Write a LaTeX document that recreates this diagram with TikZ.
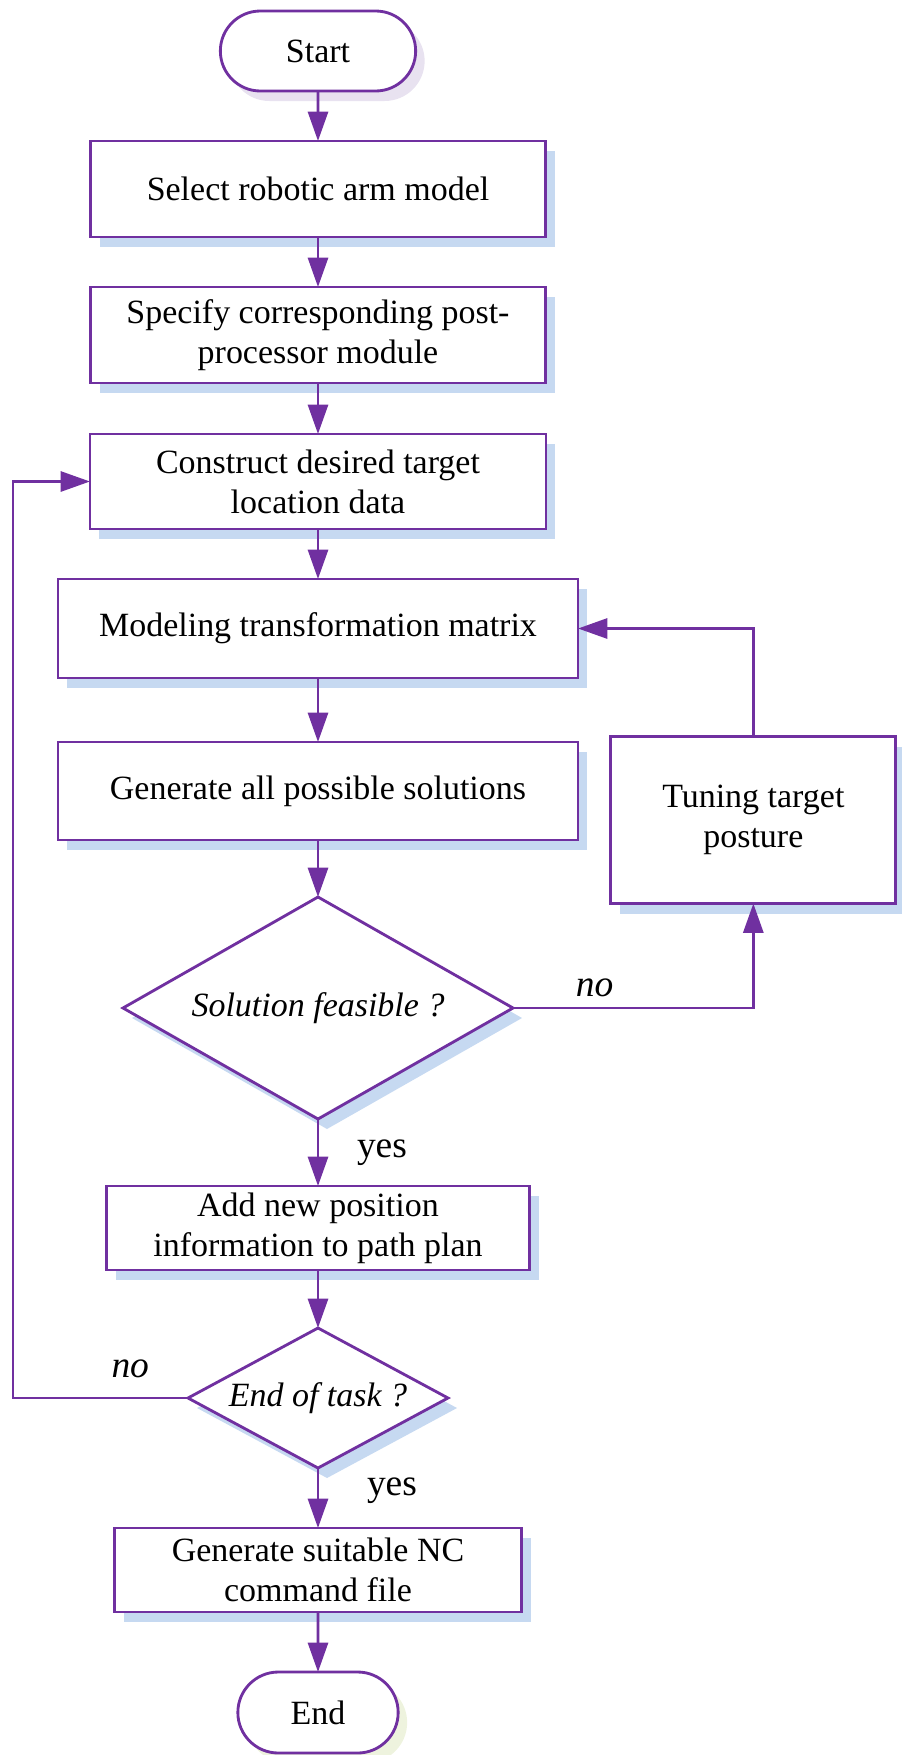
\documentclass[tikz,border=0pt]{standalone}
\usepackage{fontspec}
\setmainfont{Liberation Serif}
\usetikzlibrary{arrows.meta,shapes,positioning,shadows}
\definecolor{flowpurple}{RGB}{112,48,160}
\definecolor{shadowblue}{RGB}{198,217,241}
\definecolor{shadowlilac}{RGB}{232,226,240}
\definecolor{shadowlime}{RGB}{238,243,222}

\begin{document}
\begin{tikzpicture}[
  >={Triangle[length=0.88cm,width=0.6cm]},
  every node/.style={font=\fontsize{29}{34}\selectfont,outer sep=0pt},
  node distance=1.5cm,
  box/.style={rectangle,draw=flowpurple,line width=0.085cm,fill=white,align=center,inner sep=2pt,
    drop shadow={shadow xshift=0.27cm,shadow yshift=-0.3cm,fill=shadowblue,opacity=1}},
  terminal/.style={rounded rectangle,draw=flowpurple,line width=0.085cm,fill=white,inner sep=2pt,
    minimum height=2.4cm,drop shadow={shadow xshift=0.27cm,shadow yshift=-0.3cm,fill=#1,opacity=1}},
  decision/.style={diamond,draw=flowpurple,line width=0.085cm,fill=white,inner sep=0pt,
    font=\fontsize{29}{34}\selectfont\itshape,
    drop shadow={shadow xshift=0.27cm,shadow yshift=-0.3cm,fill=shadowblue,opacity=1}},
  flow/.style={draw=flowpurple,line width=0.085cm,->},
  answer/.style={font=\fontsize{32}{38}\selectfont,inner sep=0pt},
  ]
  \useasboundingbox (0,0) rectangle (27.06,-52.65);
  \node[terminal=shadowlilac, minimum width=6cm] (Start) at (9.54,-1.53) {Start};
  \node[box, below = of Start, minimum width=13.65cm, minimum height=2.88cm] (Arm) {Select robotic arm model};
  \node[box, below = of Arm, minimum width=13.65cm, minimum height=2.88cm] (Post) {Specify corresponding post-\\processor module};
  \node[box, below = 1.53 of Post, minimum width=13.68cm, minimum height=2.85cm] (Target) {Construct desired target\\location data};
  \node[box, below = of Target, minimum width=15.6cm, minimum height=2.97cm] (Matrix) {Modeling transformation matrix};
  \node[box, below = 1.92 of Matrix, minimum width=15.6cm, minimum height=2.94cm] (Solve) {Generate all possible solutions};
  \node[decision, below = 1.71 of Solve, minimum width=11.7cm, minimum height=6.66cm, aspect=1.76] (Feasible) {Solution feasible ?};
  \node[box, below = 2.01 of Feasible, minimum width=12.69cm, minimum height=2.52cm] (AddPos) {Add new position\\information to path plan};
  \node[decision, below = 1.74 of AddPos, minimum width=7.8cm, minimum height=4.2cm, aspect=1.86] (TaskEnd) {End of task ?};
  \node[box, below = 1.8 of TaskEnd, minimum width=12.21cm, minimum height=2.52cm] (NC) {Generate suitable NC\\command file};
  \node[terminal=shadowlime, below = 1.8 of NC, minimum width=4.95cm, minimum height=2.43cm] (End) {End};
  \node[box, minimum width=8.55cm, minimum height=5.01cm] (Tune) at (22.6,-24.6) {Tuning target\\posture};
  \coordinate (Back) at (0.39,0);

  \draw[flow] (Start) -- (Arm);
  \draw[flow] (Arm) -- (Post);
  \draw[flow] (Post) -- (Target);
  \draw[flow] (Target) -- (Matrix);
  \draw[flow] (Matrix) -- (Solve);
  \draw[flow] (Solve) -- (Feasible);
  \draw[flow] (Feasible) -- node[answer, right=1.17cm] {yes} (AddPos);
  \draw[flow] (Feasible) -| node[answer, above=0.33cm, pos=0.17] {\textit{no}} (Tune);
  \draw[flow] (Tune) |- (Matrix);
  \draw[flow] (AddPos) -- (TaskEnd);
  \draw[flow] (TaskEnd) -- node[answer, right=1.47cm, pos=0.38] {yes} (NC);
  \draw[flow] (TaskEnd) -- node[answer, above=0.6cm, pos=0.33] {\textit{no}} (TaskEnd -| Back) |- (Target);
  \draw[flow] (NC) -- (End);
\end{tikzpicture}
\end{document}
